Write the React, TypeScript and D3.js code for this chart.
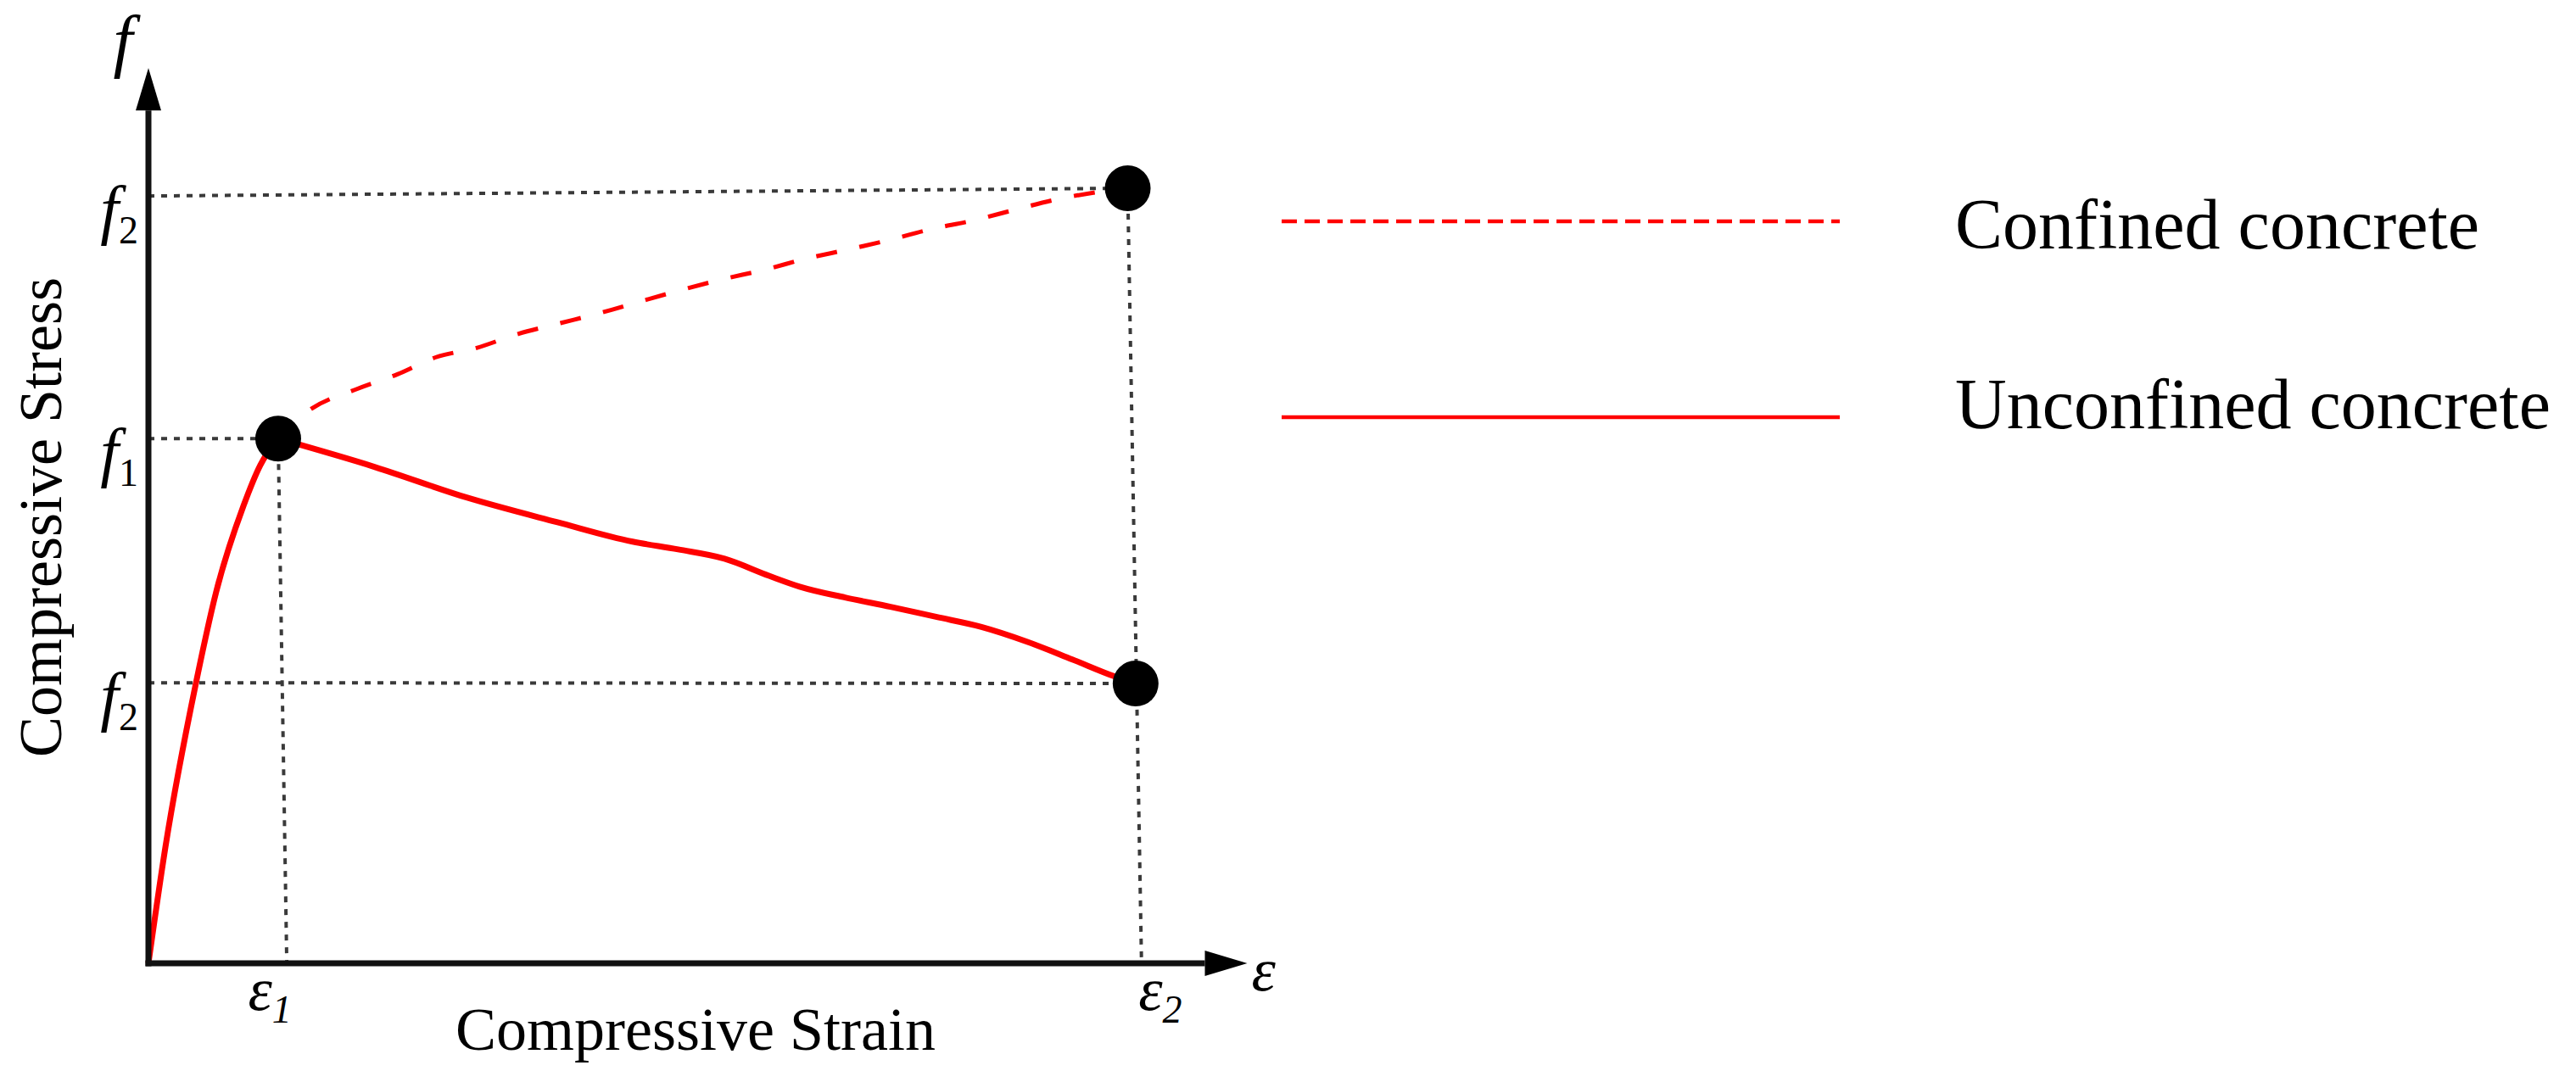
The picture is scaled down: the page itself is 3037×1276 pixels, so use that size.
import React from "react";
import * as d3 from "d3";

// ---- data (normalised strain / stress units) ----
const ascendingStrain = [0, 0.0172, 0.048, 0.0687, 0.0961, 0.1133, 0.1313];
const ascendingStress = [0, 0.15, 0.361, 0.48, 0.59, 0.643, 0.677];

const unconfinedStrain = [0.1313, 0.23, 0.322, 0.414, 0.49, 0.536, 0.583, 0.628, 0.659, 0.705, 0.751, 0.797, 0.843, 0.889, 0.935, 0.978, 0.999];
const unconfinedStress = [0.677, 0.64, 0.601, 0.569, 0.544, 0.534, 0.522, 0.5, 0.486, 0.472, 0.46, 0.447, 0.434, 0.415, 0.392, 0.37, 0.361];

const confinedStrain = [0.1313, 0.161, 0.211, 0.252, 0.291, 0.332, 0.374, 0.417, 0.457, 0.498, 0.54, 0.579, 0.624, 0.665, 0.708, 0.749, 0.791, 0.833, 0.876, 0.917, 0.96, 0.991];
const confinedStress = [0.677, 0.712, 0.741, 0.76, 0.782, 0.794, 0.812, 0.826, 0.839, 0.854, 0.869, 0.882, 0.895, 0.909, 0.921, 0.933, 0.947, 0.958, 0.972, 0.985, 0.995, 1.0];

const keyStrain = [0.1313, 0.991, 0.999];
const keyStress = [0.677, 1.0, 0.361];

// guide lines: [strain1, stress1, strain2, stress2]
const guideLines = [
  [0, 0.677, 0.1313, 0.677],
  [0.1313, 0.677, 0.14, 0],
  [0, 0.99, 0.991, 1.0],
  [0, 0.362, 0.999, 0.361],
  [0.991, 1.0, 1.005, 0],
];

const stressTickValues = [0.99, 0.677, 0.362];
const stressTickSubs = ["2", "1", "2"];
const strainTickValues = [0.14, 1.005];
const strainTickSubs = ["1", "2"];

const axisMaxStrain = 1.112;
const axisMaxStress = 1.155;

const legendLabels = ["Confined concrete", "Unconfined concrete"];
const xAxisTitle = "Compressive Strain";
const yAxisTitle = "Compressive Stress";

export default function App() {
  const x = d3.scaleLinear().domain([0, 1]).range([175, 1340]);
  const y = d3.scaleLinear().domain([0, 1]).range([1136, 222]);

  const line = d3
    .line<[number, number]>()
    .x((d) => x(d[0]))
    .y((d) => y(d[1]))
    .curve(d3.curveMonotoneX);

  const zip = (a: number[], b: number[]) => a.map((v, i) => [v, b[i]] as [number, number]);
  const ascendingPath = line(zip(ascendingStrain, ascendingStress)) || "";
  const unconfinedPath = line(zip(unconfinedStrain, unconfinedStress)) || "";
  const confinedPath = line(zip(confinedStrain, confinedStress)) || "";

  const x0 = x(0);
  const y0 = y(0);
  const xEnd = x(axisMaxStrain);
  const yEnd = y(axisMaxStress);
  const head = 50;
  const half = 15;
  const strainLabelShift = [-20, 22];

  const serif = "'Liberation Serif', 'DejaVu Serif', serif";

  return (
    <svg width={3037} height={1276} style={{ position: "absolute", left: 0, top: 0, background: "#fff" }} fontFamily={serif}>
      <rect width={3037} height={1276} fill="#fff" />
      {/* guides */}
      {guideLines.map((g, i) => (
        <line key={i} x1={x(g[0])} y1={y(g[1])} x2={x(g[2])} y2={y(g[3])} stroke="#3a3a3a" strokeWidth={4} strokeDasharray="7 8" />
      ))}
      {/* curves */}
      <path d={confinedPath} fill="none" stroke="#ff0000" strokeWidth={5} strokeDasharray="25 27" />
      <path d={ascendingPath} fill="none" stroke="#ff0000" strokeWidth={7} strokeLinejoin="round" />
      <path d={unconfinedPath} fill="none" stroke="#ff0000" strokeWidth={7} strokeLinejoin="round" />
      {/* axes */}
      <line x1={x0} y1={y0 + 3.5} x2={x0} y2={yEnd + head} stroke="#111" strokeWidth={7} />
      <line x1={x0 - 3.5} y1={y0} x2={xEnd - head} y2={y0} stroke="#111" strokeWidth={7} />
      <polygon points={`${x0},${yEnd} ${x0 - half},${yEnd + head} ${x0 + half},${yEnd + head}`} fill="#000" />
      <polygon points={`${xEnd},${y0} ${xEnd - head},${y0 - half} ${xEnd - head},${y0 + half}`} fill="#000" />
      {/* key points */}
      {keyStrain.map((s, i) => (
        <circle key={i} cx={x(s)} cy={y(keyStress[i])} r={27} fill="#000" />
      ))}
      {/* axis symbols */}
      <text x={x0 - 30} y={yEnd - 5} fontSize={82} fontStyle="italic" textAnchor="middle">f</text>
      <text x={xEnd + 5} y={y0 + 32} fontSize={72} fontStyle="italic">ε</text>
      {/* stress ticks */}
      {stressTickValues.map((v, i) => (
        <text key={i} x={x0 - 12} y={y(v) + 42} fontSize={78} textAnchor="end">
          <tspan fontStyle="italic">f</tspan>
          <tspan fontSize={46} dy={14}>{stressTickSubs[i]}</tspan>
        </text>
      ))}
      {/* strain ticks */}
      {strainTickValues.map((v, i) => (
        <text key={i} x={x(v) + strainLabelShift[i]} y={y0 + 55} fontSize={72} fontStyle="italic" textAnchor="middle">
          ε<tspan fontSize={46} dy={15}>{strainTickSubs[i]}</tspan>
        </text>
      ))}
      {/* axis titles */}
      <text x={537} y={1238} fontSize={72}>{xAxisTitle}</text>
      <text transform={`translate(72,610) rotate(-90)`} fontSize={72} textAnchor="middle">{yAxisTitle}</text>
      {/* legend */}
      <line x1={1511} y1={261} x2={2169} y2={261} stroke="#ff0000" strokeWidth={4.5} strokeDasharray="18 9" />
      <line x1={1511} y1={492} x2={2169} y2={492} stroke="#ff0000" strokeWidth={4.5} />
      <text x={2305} y={293} fontSize={84}>{legendLabels[0]}</text>
      <text x={2305} y={505} fontSize={84}>{legendLabels[1]}</text>
    </svg>
  );
}
